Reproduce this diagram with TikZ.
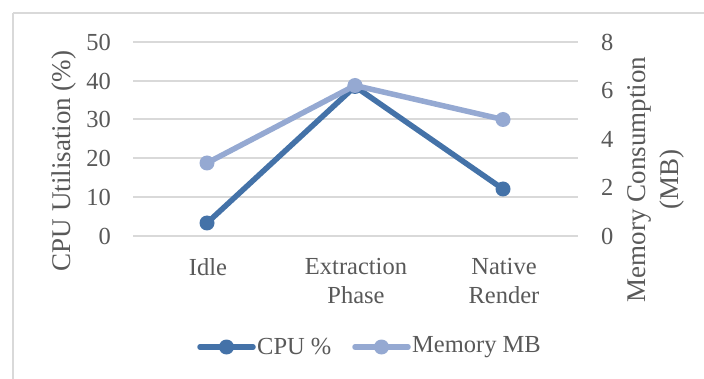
\documentclass[tikz,border=0pt]{standalone}
\usepackage{fontspec}
\setmainfont{Liberation Serif}
\definecolor{txtgray}{HTML}{595959}
\definecolor{gridgray}{HTML}{D9D9D9}
\definecolor{cpublue}{RGB}{68,114,168}
\definecolor{memblue}{RGB}{149,169,210}
\tikzset{
  gridline/.style={draw=gridgray, line width=2pt},
  frameline/.style={draw=gridgray, line width=1.6pt},
  ticklbl/.style={text=txtgray, inner sep=0pt, font=\fontsize{24.5}{28}\selectfont},
  catlbl/.style={text=txtgray, inner sep=0pt, align=center, anchor=north, font=\fontsize{24.5}{28.5}\selectfont},
  axtitle/.style={text=txtgray, inner sep=0pt, align=center, rotate=90, font=\fontsize{27}{33}\selectfont},
  cpuline/.style={draw=cpublue, line width=5.5pt, line cap=round, line join=round},
  memline/.style={draw=memblue, line width=5.5pt, line cap=round, line join=round},
  cpudot/.style={circle, fill=cpublue, minimum size=15pt, inner sep=0pt},
  memdot/.style={circle, fill=memblue, minimum size=15pt, inner sep=0pt},
  legtext/.style={text=txtgray, inner sep=0pt, anchor=west, font=\fontsize{24.5}{28}\selectfont},
}
\begin{document}
\begin{tikzpicture}[x=1pt, y=-1pt]
\useasboundingbox (0,0) rectangle (704,379);
\fill[white] (0,0) rectangle (704,379);

% chart frame (top and left edges)
\draw[frameline] (13,13) -- (705,13);
\draw[frameline] (13,13) -- (13,380);

% horizontal gridlines
\foreach \yy in {42,81,119,158,197,236}
  \draw[gridline] (133,\yy) -- (578,\yy);

% left axis tick labels (CPU %)
\node[ticklbl, anchor=east] (l50) at (111,42) {50};
\node[ticklbl, anchor=east] (l40) at (111,81) {40};
\node[ticklbl, anchor=east] (l30) at (111,119) {30};
\node[ticklbl, anchor=east] (l20) at (111,158) {20};
\node[ticklbl, anchor=east] (l10) at (111,197) {10};
\node[ticklbl, anchor=east] (l0)  at (111,236) {0};

% right axis tick labels (MB)
\node[ticklbl, anchor=west] (r8) at (601,42) {8};
\node[ticklbl, anchor=west] (r6) at (601,90.5) {6};
\node[ticklbl, anchor=west] (r4) at (601,139) {4};
\node[ticklbl, anchor=west] (r2) at (601,187.5) {2};
\node[ticklbl, anchor=west] (r0) at (601,236) {0};

% axis titles
\node[axtitle] (ytitle) at (64,161) {CPU Utilisation (\%)};
\node[axtitle] (y2title) at (656,179.5) {Memory Consumption\\(MB)};

% category labels
\node[catlbl] (cat1) at (208,258.5) {Idle};
\node[catlbl] (cat2) at (356,258.5) {Extraction\\Phase};
\node[catlbl] (cat3) at (504,258.5) {Native\\Render};

% data points
\coordinate (c1) at (207,223);
\coordinate (c2) at (355,86.5);
\coordinate (c3) at (503,189);
\coordinate (m1) at (207,163);
\coordinate (m2) at (355,85.5);
\coordinate (m3) at (503,119.5);

% CPU series
\draw[cpuline] (c1) -- (c2) -- (c3);
\node[cpudot] (cpu1) at (c1) {};
\node[cpudot] (cpu2) at (c2) {};
\node[cpudot] (cpu3) at (c3) {};

% memory series
\draw[memline] (m1) -- (m2) -- (m3);
\node[memdot] (mem1) at (m1) {};
\node[memdot] (mem2) at (m2) {};
\node[memdot] (mem3) at (m3) {};

% legend
\coordinate (lc1) at (200,347);
\coordinate (lc2) at (253,347);
\draw[cpuline] (lc1) -- (lc2);
\node[cpudot] (lcdot) at (226.5,347) {};
\node[legtext] (lctext) at (257,347) {CPU \%};

\coordinate (lm1) at (355,347);
\coordinate (lm2) at (408,347);
\draw[memline] (lm1) -- (lm2);
\node[memdot] (lmdot) at (381.5,347) {};
\node[legtext] (lmtext) at (412,347) {Memory MB};
\end{tikzpicture}
\end{document}
